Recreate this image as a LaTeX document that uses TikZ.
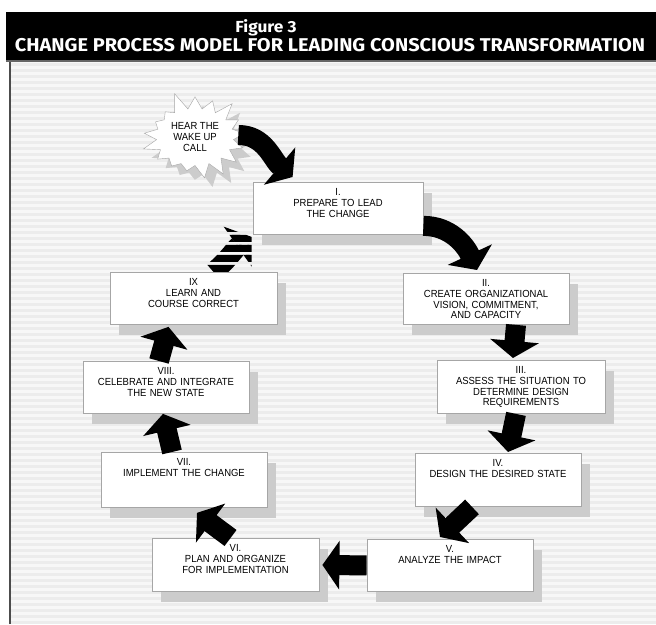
\documentclass[tikz,border=0pt]{standalone}
\usepackage{fontspec}
\newfontfamily\boxfont[FakeStretch=0.92]{Liberation Sans}
\newfontfamily\headfont[FakeStretch=1.08]{Fira Sans}
\usetikzlibrary{arrows.meta,calc,shadows,shapes.symbols}

\begin{document}
\begin{tikzpicture}[x=1pt,y=1pt,
  box/.style={draw=gray!70,fill=white,line width=0.8pt,align=center,anchor=north,
    font=\boxfont\fontsize{10.3}{10.8}\selectfont,inner xsep=3pt,inner ysep=6pt,
    drop shadow={shadow xshift=9pt,shadow yshift=-11pt,fill=black!20,opacity=1}},
  burst/.style={starburst,starburst points=17,starburst point height=19pt,random starburst=5,
    draw=gray!70,fill=white,minimum width=104pt,minimum height=95pt,align=center,
    font=\boxfont\fontsize{10.3}{11}\selectfont,
    drop shadow={shadow xshift=8pt,shadow yshift=-9pt,fill=black!20,opacity=1}},
  bigarrow/.style={line width=20pt,-{Triangle[length=17pt,width=48pt]}}]
  \useasboundingbox (0,0) rectangle (656,624);
  % striped background and frame
  \fill[gray!6] (10,0) rectangle (656,562);
  \foreach \y in {0,6,...,558} \fill[gray!15] (10,\y) rectangle (656,\y+3);
  \draw[black!70,line width=2pt] (10,0) -- (10,562);
  \fill[black] (6,564) rectangle (656,612);
  \fill[black!60] (6,562) rectangle (656,564);
  \node[text=white,font=\headfont\bfseries\fontsize{16}{16}\selectfont] (fig) at (266,596) {Figure 3};
  \node[text=white,font=\headfont\bfseries\fontsize{18.5}{18.5}\selectfont] (title) at (330,579)
    {CHANGE PROCESS MODEL FOR LEADING CONSCIOUS TRANSFORMATION};

  \node[burst] (wake) at (195,487) {HEAR THE\\WAKE UP\\CALL};

  \node[box,text width=164pt,text depth=33pt] (b1) at (338,442) {I.\\PREPARE TO LEAD\\THE CHANGE};
  \node[box,text width=160pt,text depth=32pt] (b2) at (486,351) {II.\\CREATE ORGANIZATIONAL\\VISION, COMMITMENT,\\AND CAPACITY};
  \node[box,text width=162pt,text depth=34pt] (b3) at (521,264) {III.\\ASSESS THE SITUATION TO\\DETERMINE DESIGN\\REQUIREMENTS};
  \node[box,text width=160pt,text depth=34pt] (b4) at (498,171) {IV.\\DESIGN THE DESIRED STATE};
  \node[box,text width=160pt,text depth=33pt] (b5) at (450,85) {V.\\ANALYZE THE IMPACT};
  \node[box,text width=161pt,text depth=34pt] (b6) at (235.5,86) {VI.\\PLAN AND ORGANIZE\\FOR IMPLEMENTATION};
  \node[box,text width=160pt,text depth=36pt] (b7) at (184,172) {VII.\\IMPLEMENT THE CHANGE};
  \node[box,text width=160pt,text depth=33pt] (b8) at (166,263) {VIII.\\CELEBRATE AND INTEGRATE\\THE NEW STATE};
  \node[box,text width=161pt,text depth=33pt] (b9) at (193.5,352) {IX\\LEARN AND\\COURSE CORRECT};

  % the cycle
  \draw[bigarrow] ([yshift=2pt]wake.east) to[out=0,in=140] ($(b1.north west)+(40,5)$);
  \draw[bigarrow] ($(b1.south east)+(0,9)$) to[out=0,in=115] ($(b2.north)+(-9,3)$);
  \draw[bigarrow] ($(b2.south)+(30,0)$) -- ($(b3.north)+(-8,2)$);
  \draw[bigarrow] ($(b3.south)+(-5,0)$) -- ($(b4.north)+(10,1)$);
  \draw[bigarrow] ($(b4.south)+(-26,0)$) -- ($(b5.north)+(-10,2)$);
  \draw[bigarrow] (b5.west) -- ($(b6.east)+(3,0)$);
  \draw[bigarrow] ($(b6.north)+(-5,0)$) -- ($(b7.south)+(13,-5)$);
  \draw[bigarrow] ($(b7.north)+(-12,0)$) -- ($(b8.south)+(-3,0)$);
  \draw[bigarrow] ($(b8.north)+(-7,0)$) -- ($(b9.south)+(-25,-2)$);
  \begin{scope}
    \clip foreach \y in {352,362,...,392} {(190,\y) rectangle (270,\y+7)};
    \draw[bigarrow] ($(b9.north)+(20,0)$) to[out=40,in=-145] ($(b1.south west)+(-1,-2)$);
  \end{scope}
\end{tikzpicture}
\end{document}
